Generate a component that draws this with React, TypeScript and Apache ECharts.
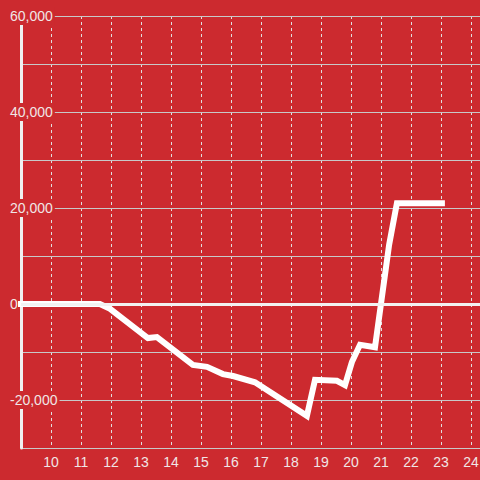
import React, { useEffect, useRef } from "react";
import * as echarts from "echarts";

const xValues = [9, 11.63, 11.97, 12.4, 13.23, 13.53, 14.73, 15.2, 15.73, 16.07, 16.8, 18.53, 18.8, 19.53, 19.8, 20.03, 20.3, 20.8, 21.27, 21.53, 23.03];
const yValues = [0, 0, -1000, -3100, -7100, -6900, -12700, -13100, -14600, -15000, -16300, -23300, -15800, -16000, -16900, -12100, -8500, -9000, 12300, 21000, 21000];
const labeledY = [-20000, 0, 20000, 40000, 60000];

const BG = "#cc2a2f";

export default function App() {
  const ref = useRef<HTMLDivElement>(null);
  useEffect(() => {
    if (!ref.current) return;
    const chart = echarts.init(ref.current, null, { renderer: "svg" });
    const data = xValues.map((x, i) => [x, yValues[i]]);
    chart.setOption({
      animation: false,
      backgroundColor: BG,
      grid: { left: 21, right: 0, top: 16, bottom: 32, containLabel: false, outerBoundsMode: "none" },
      xAxis: {
        type: "value",
        min: 9,
        max: 24.3,
        interval: 1,
        axisLine: { show: true, lineStyle: { color: "#dddddd", width: 2 } },
        axisTick: { show: false },
        axisLabel: {
          color: "#f0e6e6",
          fontSize: 14,
          fontFamily: "Liberation Sans, Arial, sans-serif",
          margin: 7,
          formatter: (v: number) => (Number.isInteger(v) && v !== 9 ? String(v) : ""),
        },
        splitLine: { show: true, lineStyle: { color: "#e0e0e0", width: 1, type: [3, 3] } },
      },
      yAxis: {
        type: "value",
        min: -30000,
        max: 60000,
        interval: 10000,
        z: 1,
        axisLine: { show: true, lineStyle: { color: "#f0f0f0", width: 3 } },
        axisTick: { show: false },
        axisLabel: {
          inside: true,
          margin: -13,
          formatter: (v: number) =>
            labeledY.includes(v) ? "{b|" + v.toLocaleString("en-US") + "}" : "",
          rich: {
            b: {
              color: "#f0e6e6",
              fontSize: 14,
              fontFamily: "Liberation Sans, Arial, sans-serif",
              backgroundColor: BG,
              padding: [2, 2, 2, 2],
            },
          },
        },
        splitLine: { show: true, lineStyle: { color: "#c8c8c8", width: 1 } },
      },
      series: [
        {
          type: "line",
          data,
          showSymbol: false,
          symbol: "none",
          clip: false,
          z: 3,
          lineStyle: { color: "#ffffff", width: 6, cap: "square", join: "miter" },
          markLine: {
            silent: true,
            symbol: "none",
            label: { show: false },
            lineStyle: { color: "#f2f2f2", width: 3, type: "solid" },
            data: [{ yAxis: 0 }],
          },
        },
      ],
    });
    return () => chart.dispose();
  }, []);
  return (
    <div
      ref={ref}
      style={{ position: "fixed", left: 0, top: 0, width: 480, height: 480 }}
    />
  );
}
